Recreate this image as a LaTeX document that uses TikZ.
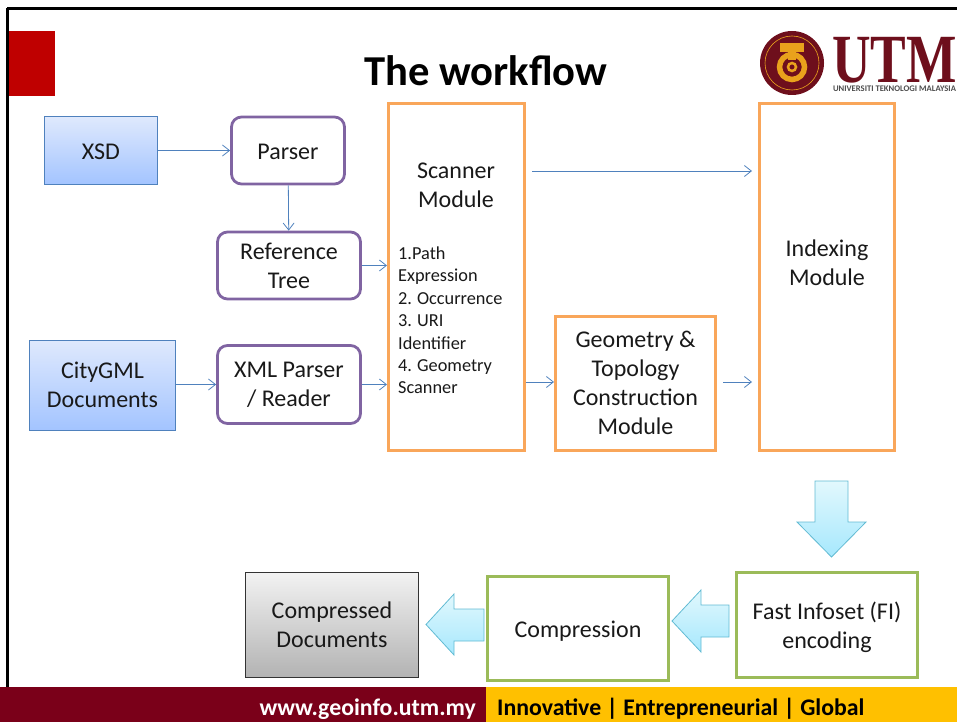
\documentclass[tikz,border=0pt]{standalone}
\usepackage{fontspec}
\setmainfont{Carlito}
\newfontfamily\logofont{Liberation Serif}
\usetikzlibrary{arrows.meta}
\usetikzlibrary{positioning}
\definecolor{bluedge}{HTML}{4F81BD}
\definecolor{bluetop}{HTML}{DFE9FD}
\definecolor{bluebot}{HTML}{A3C4FF}
\definecolor{purpledge}{HTML}{8064A2}
\definecolor{orangedge}{HTML}{F9A65A}
\definecolor{greenedge}{HTML}{9BBB59}
\definecolor{blocktop}{HTML}{E2F8FD}
\definecolor{blockbot}{HTML}{A6E8FD}
\definecolor{blockedge}{HTML}{62BBD3}
\definecolor{utmred}{HTML}{6E0F1C}
\definecolor{utmgold}{HTML}{E9A21C}
\definecolor{footred}{HTML}{7A0019}
\definecolor{footyellow}{HTML}{FFC000}
\tikzset{
  label text/.style={font=\fontsize{24}{29}\selectfont, align=center, text=black!90},
  blue box/.style={label text, draw=bluedge, line width=1pt, top color=bluetop, bottom color=bluebot, minimum width=#1},
  purple box/.style={label text, draw=purpledge, line width=2.8pt, rounded corners=10pt, fill=white},
  orange box/.style={label text, draw=orangedge, line width=3pt, fill=white},
  green box/.style={label text, draw=greenedge, line width=3pt, fill=white},
  thin arrow/.style={draw=bluedge, line width=0.8pt, -{Straight Barb[length=7pt,width=11pt]}},
  block arrow/.style={draw=blockedge, line width=0.8pt, top color=blocktop, bottom color=blockbot},
}
\begin{document}
\begin{tikzpicture}[x=1pt, y=-1pt]
  \useasboundingbox (0,0) rectangle (957,722);

  \fill[red!75!black] (6,31) rectangle (55,96);
  \draw[black, line width=3pt] (7,8.5) -- (960,8.5) (7,8.5) -- (7,700);

  \node (title) at (486,71) {\fontsize{42.6}{50}\selectfont\bfseries The workflow};

  \fill[utmred] (792,63) circle (32);
  \draw[utmgold, line width=0.6pt] (792,63) circle (27);
  \fill[utmgold] (780,43) rectangle (804,52);
  \fill[utmgold] (788,52) rectangle (796,60);
  \draw[utmgold, line width=5.5pt] (792,67) circle (12.5);
  \draw[utmgold, line width=2.5pt] (792,67) circle (4);
  \node[text=utmred, inner sep=0pt, anchor=base] (utm) at (894.5,83) {\scalebox{.89}[1.15]{\logofont\bfseries\fontsize{60}{60}\selectfont UTM}};
  \node[text=black!70, inner sep=0pt] (utmname) at (894.5,89) {\fontsize{8.6}{9}\selectfont\bfseries UNIVERSITI TEKNOLOGI MALAYSIA};

  \node[blue box=113pt, minimum height=68pt] (xsd) at (101,150.5) {\rule{0pt}{18pt}XSD};
  \node[blue box=146pt, minimum height=90pt] (citygml) at (102.5,385) {CityGML\\Documents};
  \node[purple box, minimum width=113pt, minimum height=67pt] (parser) at (288,150.5) {\rule{0pt}{18pt}Parser};
  \node[purple box, minimum width=143pt, minimum height=67pt] (reftree) at (289,265.5) {Reference\\Tree};
  \node[purple box, minimum width=143pt, minimum height=78pt] (xmlparser) at (289,384.5) {XML Parser\\/ Reader};

  \node[orange box, minimum width=136pt, minimum height=346pt] (scanner) at (456.5,277) {};
  \node[label text] (scannertitle) at (456,185) {Scanner\\Module};
  \node[anchor=north west, inner sep=0pt, align=left, text width=122pt, text=black!90] (scannerlist) at (398,246.5)
    {\fontsize{18.3}{22.4}\selectfont 1.Path\\Expression\\2. Occurrence\\3. URI\\Identifier\\4. Geometry\\Scanner\par};
  \node[orange box, minimum width=160pt, minimum height=134pt] (geometry) at (635.5,383) {Geometry \&\\Topology\\Construction\\Module};
  \node[orange box, minimum width=135pt, minimum height=346pt] (indexing) at (827,277) {};
  \node[label text] (indexingtitle) at (827,263) {Indexing\\Module};

  \node[green box, minimum width=181pt, minimum height=105pt] (fastinfoset) at (827,624.5) {\rule{0pt}{23pt}Fast Infoset (FI)\\encoding};
  \node[green box, minimum width=181pt, minimum height=104pt] (compression) at (578,628) {\rule{0pt}{22pt}Compression};
  \node[label text, draw=black!80, line width=1pt, top color=black!5, bottom color=black!30, minimum width=173pt, minimum height=105pt] (compressed) at (332,625) {Compressed\\Documents};

  \coordinate (scannerout) at (532,171);
  \coordinate (indexingin) at (752,171);
  \coordinate (geometryout) at (723,382);
  \coordinate (indexinglow) at (752,382);
  \draw[thin arrow] (xsd) -- (parser);
  \draw[thin arrow] (parser) -- (reftree);
  \draw[thin arrow] (reftree) -- (reftree -| scanner.west);
  \draw[thin arrow] (citygml.east |- xmlparser) -- (xmlparser);
  \draw[thin arrow] (xmlparser) -- (xmlparser -| scanner.west);
  \draw[thin arrow] (scanner.east |- geometryout) -- (geometry.west |- geometryout);
  \draw[thin arrow] (scannerout) -- (indexingin);
  \draw[thin arrow] (geometryout) -- (indexinglow);

  \draw[block arrow] (815,481) -- (848,481) -- (848,522) -- (866,522) -- (831.5,557) -- (797,522) -- (815,522) -- cycle;
  \draw[block arrow] (729,605) -- (729,637) -- (701,637) -- (701,652) -- (672,621) -- (701,590) -- (701,605) -- cycle;
  \draw[block arrow] (484,609) -- (484,641) -- (454,641) -- (454,655) -- (426,624.5) -- (454,594) -- (454,609) -- cycle;

  \fill[footred] (0,687) rectangle (486,722);
  \fill[footyellow] (486,687) rectangle (957,722);
  \node[anchor=east, text=white, inner sep=0pt] (website) at (476,709) {\fontsize{23.8}{28}\selectfont\bfseries www.geoinfo.utm.my};
  \node[anchor=west, text=black, inner sep=0pt] (motto) at (497,709) {\fontsize{23.8}{28}\selectfont\bfseries Innovative | Entrepreneurial | Global};
\end{tikzpicture}
\end{document}
